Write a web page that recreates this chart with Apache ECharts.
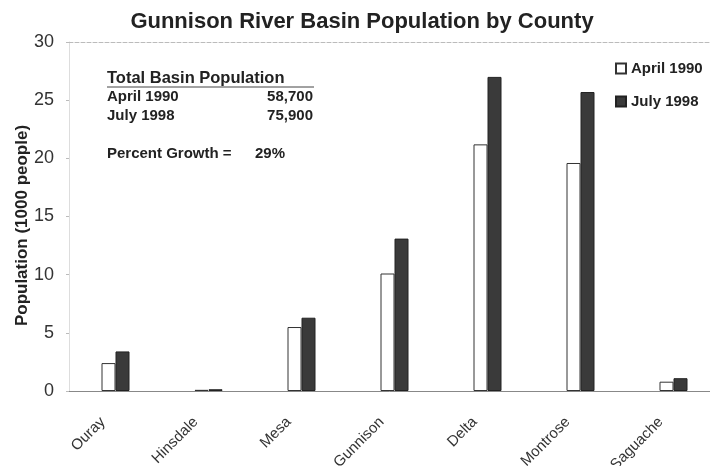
<!DOCTYPE html>
<html>
<head>
<meta charset="utf-8">
<script src="https://cdn.jsdelivr.net/npm/echarts@6/dist/echarts.min.js"></script>
<style>
  html, body { margin: 0; padding: 0; background: #fff; }
  #main { width: 710px; height: 466px; }
</style>
</head>
<body>
<div id="main"></div>
<script>
let log = console.log.bind(console)

// 数据
const counties = ['Ouray', 'Hinsdale', 'Mesa', 'Gunnison', 'Delta', 'Montrose', 'Saguache']
const april1990 = [2.4, 0.1, 5.5, 10.1, 21.2, 19.6, 0.8]
const july1998 = [3.4, 0.15, 6.3, 13.1, 27.0, 25.7, 1.1]
const yTicks = [0, 5, 10, 15, 20, 25, 30]

const font = 'Liberation Sans, Arial, sans-serif'

let myChart = echarts.init(document.getElementById('main'))

// 左上角的文字框
let boxText = function(text, x, y, size, align) {
    return {
        type: 'text',
        style: {
            x: x, y: y,
            text: text,
            font: 'bold ' + size + 'px ' + font,
            fill: '#222',
            align: align || 'left',
            verticalAlign: 'middle',
        },
    }
}

let option = {
    animation: false,
    backgroundColor: '#fff',
    title: {
        text: 'Gunnison River Basin Population by County',
        left: 357,
        textAlign: 'center',
        top: 6,
        textStyle: {
            fontFamily: font,
            fontSize: 22,
            fontWeight: 'bold',
            color: '#222',
        },
    },
    legend: {
        orient: 'vertical',
        left: 615,
        top: 61,
        padding: 0,
        itemGap: 18,
        itemWidth: 10,
        itemHeight: 10,
        icon: 'rect',
        data: ['April 1990', 'July 1998'],
        textStyle: {
            fontFamily: font,
            fontSize: 15,
            fontWeight: 'bold',
            color: '#222',
        },
    },
    grid: {
        left: 69,
        top: 42,
        width: 651,
        height: 349,
        outerBoundsMode: 'none',
    },
    xAxis: [
        {
            type: 'category',
            data: counties,
            axisLine: { lineStyle: { color: '#888', width: 1 } },
            axisTick: { show: false },
            axisLabel: {
                rotate: 45,
                interval: 0,
                margin: 16,
                padding: [0, 18, 0, 0],
                fontFamily: font,
                fontSize: 15,
                color: '#333',
            },
        },
        {
            // 顶部虚线
            type: 'category',
            data: counties,
            position: 'top',
            axisLine: { lineStyle: { color: '#bbb', type: 'dashed', width: 1 } },
            axisTick: { show: false },
            axisLabel: { show: false },
        },
    ],
    yAxis: {
        type: 'value',
        min: 0,
        max: 30,
        interval: 5,
        name: 'Population (1000 people)',
        nameLocation: 'middle',
        nameGap: 38,
        nameMoveOverlap: false,
        nameTextStyle: {
            fontFamily: font,
            fontSize: 17,
            fontWeight: 'bold',
            color: '#222',
            padding: [0, 18, 0, 0],
        },
        axisLine: { show: true, lineStyle: { color: '#ddd' } },
        axisTick: { show: true, length: 3, lineStyle: { color: '#bbb' } },
        axisLabel: {
            fontFamily: font,
            fontSize: 18,
            color: '#333',
            margin: 15,
            formatter: function(v) {
                return yTicks.indexOf(v) >= 0 ? String(v) : ''
            },
        },
        splitLine: { show: false },
    },
    series: [
        {
            name: 'April 1990',
            type: 'bar',
            data: april1990,
            barWidth: 14,
            barGap: '0%',
            itemStyle: { color: '#fff', borderColor: '#333', borderWidth: 1 },
        },
        {
            name: 'July 1998',
            type: 'bar',
            data: july1998,
            barWidth: 14,
            itemStyle: { color: '#3a3a3a', borderColor: '#222', borderWidth: 1 },
        },
    ],
    graphic: [
        boxText('Total Basin Population', 107, 78, 16.5),
        {
            type: 'line',
            shape: { x1: 107, y1: 87, x2: 314, y2: 87 },
            style: { stroke: '#444', lineWidth: 1 },
        },
        boxText('April 1990', 107, 97, 15),
        boxText('58,700', 313, 97, 15, 'right'),
        boxText('July 1998', 107, 116, 15),
        boxText('75,900', 313, 116, 15, 'right'),
        boxText('Percent Growth =', 107, 154, 15),
        boxText('29%', 255, 154, 15),
    ],
}

myChart.setOption(option)
</script>
</body>
</html>
